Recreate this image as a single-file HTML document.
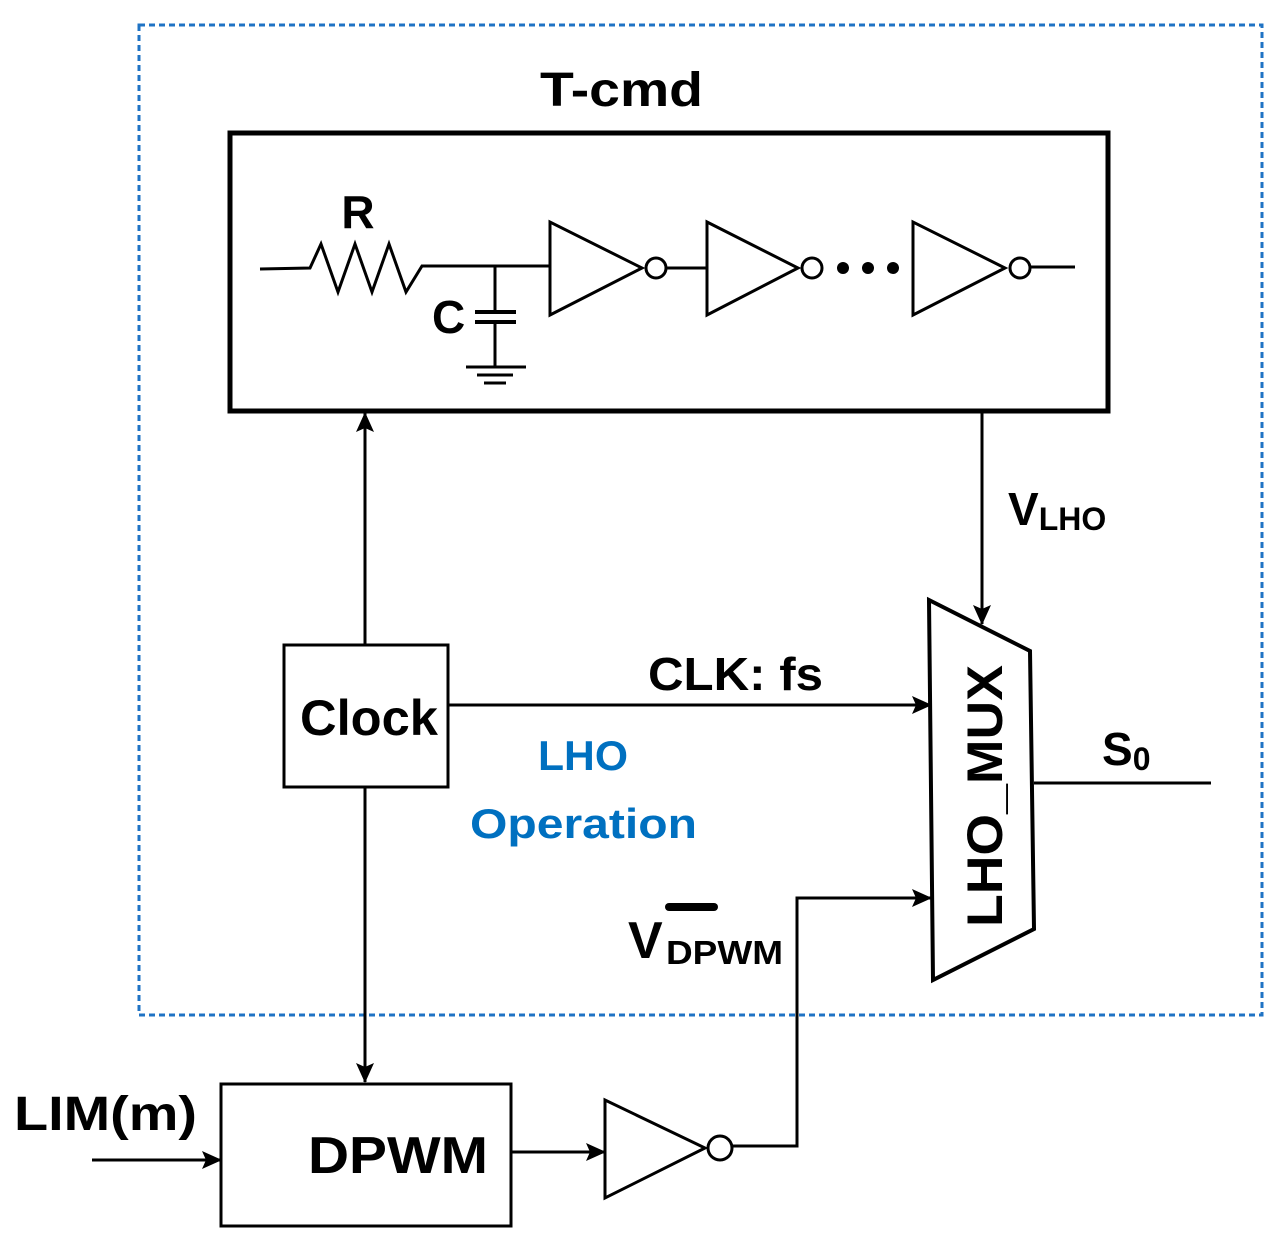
<!DOCTYPE html>
<html><head><meta charset="utf-8"><style>
html,body{margin:0;padding:0;background:#fff;}
svg{display:block;}
text{font-family:"Liberation Sans",sans-serif;font-weight:bold;fill:#000;}
</style></head><body>
<svg width="1287" height="1242" viewBox="0 0 1287 1242" xmlns="http://www.w3.org/2000/svg">
<defs>
<marker id="ah" markerWidth="20" markerHeight="18" refX="19" refY="9" orient="auto" markerUnits="userSpaceOnUse" viewBox="0 0 20 18">
<path d="M0,0 L20,9 L0,18 L4,9 Z" fill="#000"/>
</marker>
</defs>
<rect x="139" y="25" width="1123" height="990" fill="none" stroke="#1f73c4" stroke-width="3" stroke-dasharray="6,4"/>
<text x="540" y="106" font-size="48" textLength="163" lengthAdjust="spacingAndGlyphs">T-cmd</text>
<rect x="230" y="133" width="878" height="278" fill="none" stroke="#000" stroke-width="5"/>
<text x="358" y="228" font-size="46" text-anchor="middle">R</text>
<polyline points="260,269 310,268 321,244 338,292 355,244 372,292 389,244 406,292 422,266 550,266" fill="none" stroke="#000" stroke-width="3"/>
<line x1="495" y1="266" x2="495" y2="312" stroke="#000" stroke-width="3"/>
<line x1="475" y1="312" x2="516" y2="312" stroke="#000" stroke-width="4"/>
<line x1="475" y1="322" x2="516" y2="322" stroke="#000" stroke-width="4"/>
<line x1="495" y1="322" x2="495" y2="366" stroke="#000" stroke-width="3"/>
<line x1="466" y1="367" x2="526" y2="367" stroke="#000" stroke-width="3"/>
<line x1="477" y1="375" x2="513" y2="375" stroke="#000" stroke-width="3"/>
<line x1="484" y1="383" x2="506" y2="383" stroke="#000" stroke-width="3"/>
<text x="432" y="333" font-size="46">C</text>
<polygon points="550,222 550,315 642,268" fill="none" stroke="#000" stroke-width="3"/>
<circle cx="656" cy="268" r="10" fill="#fff" stroke="#000" stroke-width="3"/>
<line x1="666" y1="268" x2="707" y2="268" stroke="#000" stroke-width="3"/>
<polygon points="707,222 707,315 798,268" fill="none" stroke="#000" stroke-width="3"/>
<circle cx="812" cy="268" r="10" fill="#fff" stroke="#000" stroke-width="3"/>
<circle cx="843" cy="268" r="6"/><circle cx="868" cy="268" r="6"/><circle cx="893" cy="268" r="6"/>
<polygon points="913,222 913,315 1005,268" fill="none" stroke="#000" stroke-width="3"/>
<circle cx="1020" cy="268" r="10" fill="#fff" stroke="#000" stroke-width="3"/>
<line x1="1030" y1="267" x2="1075" y2="267" stroke="#000" stroke-width="3"/>
<rect x="284" y="645" width="164" height="142" fill="none" stroke="#000" stroke-width="3"/>
<text x="300" y="735" font-size="50" textLength="138" lengthAdjust="spacingAndGlyphs">Clock</text>
<line x1="365" y1="645" x2="365" y2="413" stroke="#000" stroke-width="3" marker-end="url(#ah)"/>
<line x1="365" y1="787" x2="365" y2="1082" stroke="#000" stroke-width="3" marker-end="url(#ah)"/>
<line x1="448" y1="705" x2="931" y2="705" stroke="#000" stroke-width="3" marker-end="url(#ah)"/>
<text x="648" y="690" font-size="46" textLength="175" lengthAdjust="spacingAndGlyphs">CLK: fs</text>
<text x="538" y="770" font-size="42" textLength="90" lengthAdjust="spacingAndGlyphs" style="fill:#0070c0">LHO</text>
<text x="470" y="838" font-size="42" textLength="227" lengthAdjust="spacingAndGlyphs" style="fill:#0070c0">Operation</text>
<line x1="982" y1="411" x2="982" y2="624" stroke="#000" stroke-width="3" marker-end="url(#ah)"/>
<text x="1008" y="525" font-size="46">V<tspan font-size="32" dy="5">LHO</tspan></text>
<polygon points="929,600 1030,651 1034,929 933,980" fill="none" stroke="#000" stroke-width="4"/>
<text transform="translate(1002,927) rotate(-90)" font-size="50" textLength="262" lengthAdjust="spacingAndGlyphs">LHO_MUX</text>
<line x1="1034" y1="783" x2="1211" y2="783" stroke="#000" stroke-width="3"/>
<text x="1102" y="765" font-size="46">S<tspan font-size="32" dy="5">0</tspan></text>
<polyline points="732,1146 797,1146 797,898 931,898" fill="none" stroke="#000" stroke-width="3" marker-end="url(#ah)"/>
<text x="628" y="958" font-size="52">V</text>
<line x1="669" y1="907" x2="714" y2="907" stroke="#000" stroke-width="8" stroke-linecap="round"/>
<text x="666" y="964" font-size="33" textLength="117" lengthAdjust="spacingAndGlyphs">DPWM</text>
<rect x="221" y="1084" width="290" height="142" fill="none" stroke="#000" stroke-width="3"/>
<text x="308" y="1173" font-size="52" textLength="180" lengthAdjust="spacingAndGlyphs">DPWM</text>
<line x1="511" y1="1152" x2="605" y2="1152" stroke="#000" stroke-width="3" marker-end="url(#ah)"/>
<polygon points="605,1100 605,1198 705,1148" fill="none" stroke="#000" stroke-width="3"/>
<circle cx="720" cy="1148" r="12" fill="#fff" stroke="#000" stroke-width="3"/>
<text x="14" y="1130" font-size="48" textLength="183" lengthAdjust="spacingAndGlyphs">LIM(m)</text>
<line x1="92" y1="1160" x2="221" y2="1160" stroke="#000" stroke-width="3" marker-end="url(#ah)"/>
</svg>
</body></html>
